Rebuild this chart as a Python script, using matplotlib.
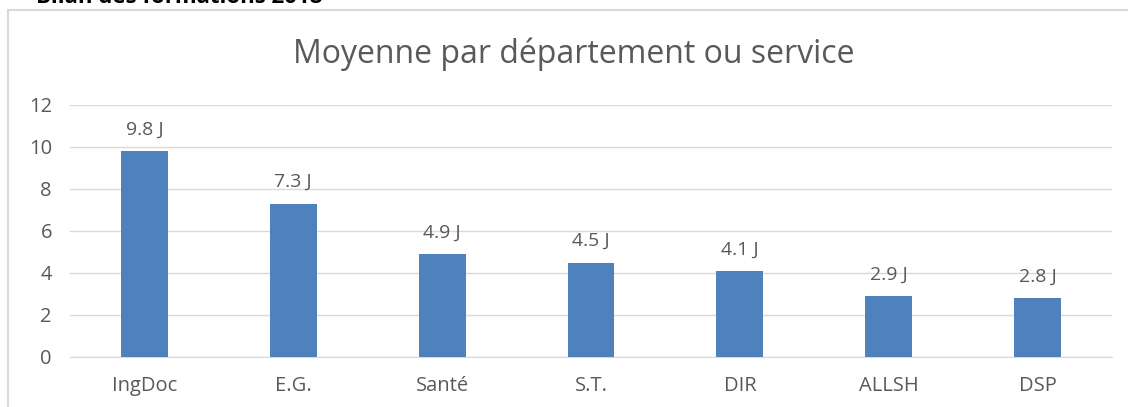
import matplotlib.pyplot as plt
from matplotlib.patches import Rectangle

# Data
services = ["IngDoc", "E.G.", "Santé", "S.T.", "DIR", "ALLSH", "DSP"]
days = [9.8, 7.3, 4.9, 4.5, 4.1, 2.9, 2.8]
labels = ["9.8 J", "7.3 J", "4.9 J", "4.5 J", "4.1 J", "2.9 J", "2.8 J"]
yticks = [0, 2, 4, 6, 8, 10, 12]

grey = "#595959"
grid = "#d9d9d9"
plt.rcParams['font.family'] = ['Open Sans', 'DejaVu Sans']

fig = plt.figure(figsize=(11.28, 4.07), dpi=100)

# chart frame (cut off at the bottom and right of the picture)
fig.patches.append(Rectangle((8/1128, -0.05), 1.2, 1 - 10/407 + 0.05,
                             transform=fig.transFigure, fill=False,
                             edgecolor=grid, linewidth=1.5))
# heading above the chart, cut off by the top of the picture
fig.text(322/1128, 1 - 3/407, "Bilan des formations 2018", ha="right",
         va="baseline", fontsize=16, fontweight="bold", color="black")

ax = fig.add_axes([70/1128, 1 - 357/407, 1042/1128, 252/407])
x = range(len(services))
bars = ax.bar(x, days, width=0.315, color="#4f81bd", zorder=3)
for b, lab in zip(bars, labels):
    ax.annotate(lab, (b.get_x() + b.get_width()/2, b.get_height()),
                xytext=(0, 9), textcoords="offset points",
                ha="center", va="bottom", fontsize=14, color=grey)

ax.set_xlim(-0.5, len(services) - 0.5)
ax.set_ylim(0, 12)
ax.set_yticks(yticks)
ax.set_xticks(list(x))
ax.set_xticklabels(services)
ax.yaxis.grid(True, color=grid, linewidth=1, zorder=0)
for s in ["top", "right", "left"]:
    ax.spines[s].set_visible(False)
ax.spines["bottom"].set_color(grid)
ax.tick_params(axis="both", length=0, colors=grey, labelsize=14.5)
ax.tick_params(axis="x", pad=14)
ax.tick_params(axis="y", pad=13)

fig.text(574/1128, 1 - 54/407, "Moyenne par département ou service",
         ha="center", va="center", fontsize=23, color=grey)

plt.savefig("out.png", dpi=100)
